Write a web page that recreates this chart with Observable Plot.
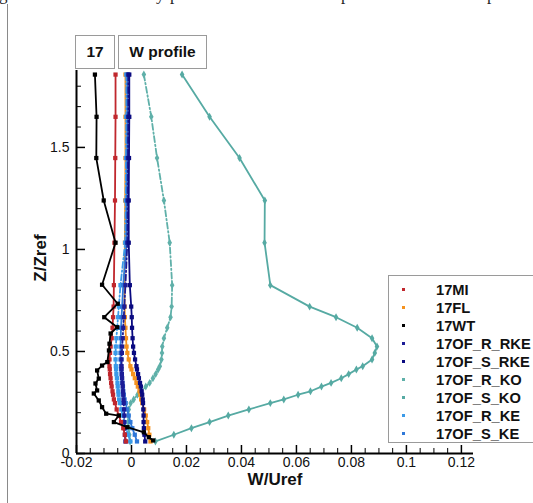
<!DOCTYPE html>
<html>
<head>
<meta charset="utf-8">
<script src="https://cdn.jsdelivr.net/npm/d3@7"></script>
<script src="https://cdn.jsdelivr.net/npm/@observablehq/plot@0.6"></script>
<style>
  html, body { margin: 0; padding: 0; background: #fff; }
  #wrap { position: relative; width: 533px; height: 503px; overflow: hidden; font-family: "Liberation Sans", Arial, sans-serif; }
  #wrap svg { position: absolute; left: 0; top: 0; }
  .tbox { position: absolute; top: 35px; height: 34px; border: 1px solid #9a9a9a; background: #fff; box-sizing: border-box;
          font-weight: bold; font-size: 15.5px; display: flex; align-items: center; justify-content: center; color: #111; }
  #legend { position: absolute; left: 388px; top: 275px; width: 170px; height: 168px; border: 1px solid #9a9a9a; background: #fff; box-sizing: border-box; }
  .lrow { position: absolute; left: 0; height: 18px; display: flex; align-items: center; font-weight: bold; font-size: 14.7px; color: #111; }
  .lmark { position: absolute; left: 13px; width: 3px; height: 3px; }
  .ltext { position: absolute; left: 47px; white-space: nowrap; }
  #pageline { position: absolute; left: 7px; top: 4px; width: 1px; height: 500px; background: #8a8a8a; }
  .frag { position: absolute; top: -15px; font-family: "Liberation Serif", serif; font-size: 17px; color: #222; }
</style>
</head>
<body>
<div id="wrap"></div>
<script>
// ---- data ----
const seriesNames = ["17MI","17FL","17WT","17OF_R_RKE","17OF_S_RKE","17OF_R_KO","17OF_S_KO","17OF_R_KE","17OF_S_KE"];
const seriesColors = ["#c0272d","#f5921e","#000000","#1c1c96","#0a0a80","#5fb0a9","#56aaa3","#3a9ae8","#2f78d8"];

// heights of the simulated / measured profile points (Z/Zref)
const zLevels = [1.857,1.65,1.448,1.24,1.033,0.825,0.72,0.668,0.616,0.565,0.524,0.493,0.461,0.428,0.412,0.389,0.369,0.346,0.328,0.305,0.288,0.265,0.247,0.216,0.186,0.154,0.124,0.092,0.059];

const w17MI = [-0.0058,-0.0058,-0.0059,-0.006,-0.0062,-0.0064,-0.0065,-0.0067,-0.0069,-0.0072,-0.0076,-0.0078,-0.008,-0.008,-0.0079,-0.0078,-0.0076,-0.0074,-0.0072,-0.0069,-0.0067,-0.0064,-0.006,-0.0054,-0.0046,-0.0038,-0.003,-0.0024,-0.002];
const w17FL = [-0.0022,-0.0022,-0.0022,-0.0023,-0.0024,-0.0026,-0.0025,-0.0024,-0.0022,-0.002,-0.0018,-0.0015,-0.001,-0.0004,0,0.0006,0.0012,0.0018,0.0023,0.0029,0.0032,0.0035,0.0039,0.0046,0.0052,0.0057,0.0061,0.0065,0.0069];
const w17OF_R_RKE = [-0.0012,-0.0012,-0.0013,-0.0014,-0.0015,-0.0022,-0.0026,-0.0028,-0.003,-0.0032,-0.0034,-0.0035,-0.0036,-0.0036,-0.0036,-0.0035,-0.0034,-0.0033,-0.0032,-0.0031,-0.003,-0.0029,-0.0028,-0.0027,-0.0026,-0.0026,-0.0025,-0.0024,-0.0022];
const w17OF_S_RKE = [-0.0008,-0.0008,-0.0009,-0.001,-0.001,-0.0006,-0.0001,0.0001,0.0002,0.0004,0.0006,0.0009,0.0013,0.0018,0.002,0.0024,0.0027,0.0031,0.0034,0.0037,0.0039,0.0041,0.0042,0.0043,0.0044,0.0044,0.0045,0.0047,0.005];
const w17OF_R_KO = [0.0045,0.0072,0.0093,0.0118,0.0139,0.0148,0.0146,0.0142,0.013,0.0118,0.0112,0.0111,0.0109,0.0103,0.0097,0.0088,0.0078,0.0066,0.0052,0.0035,0.0022,0.0008,-0.0003,-0.001,-0.0012,-0.0012,-0.001,-0.0008,-0.0005];
const w17OF_S_KO = [0.0184,0.0284,0.0393,0.0485,0.0484,0.0505,0.0648,0.0744,0.0821,0.0875,0.0893,0.0885,0.0875,0.0841,0.0818,0.079,0.0763,0.0726,0.0691,0.0651,0.0606,0.0554,0.0505,0.0427,0.0352,0.0284,0.0218,0.0154,0.0087];
const w17OF_R_KE = [-0.0019,-0.0019,-0.002,-0.0021,-0.0023,-0.004,-0.0046,-0.0049,-0.0052,-0.0055,-0.0057,-0.0058,-0.0058,-0.0057,-0.0056,-0.0055,-0.0053,-0.0051,-0.005,-0.0048,-0.0047,-0.0045,-0.0042,-0.0037,-0.0032,-0.0026,-0.002,-0.0012,-0.0004];
const w17OF_S_KE = [-0.0015,-0.0015,-0.0016,-0.0017,-0.0018,-0.003,-0.0034,-0.0036,-0.0038,-0.0039,-0.004,-0.004,-0.004,-0.0039,-0.0038,-0.0036,-0.0035,-0.0033,-0.0031,-0.003,-0.0028,-0.0025,-0.0021,-0.0016,-0.001,-0.0004,0.0003,0.0012,0.002];

// wind-tunnel measurement (own heights)
const zWT = [1.857,1.65,1.448,1.24,1.033,0.827,0.734,0.668,0.619,0.588,0.538,0.505,0.448,0.431,0.407,0.367,0.343,0.309,0.294,0.26,0.227,0.195,0.186,0.154,0.129,0.104,0.08,0.064];
const w17WT = [-0.0133,-0.0127,-0.0128,-0.0101,-0.0058,-0.0107,-0.005,-0.0099,-0.0052,-0.0076,-0.008,-0.0082,-0.0088,-0.0107,-0.0125,-0.0119,-0.0131,-0.0125,-0.0137,-0.0119,-0.0107,-0.0092,-0.0046,-0.0064,-0.0015,0.0045,0.0063,0.0079];

const xMajorTicks = [-0.02,0,0.02,0.04,0.06,0.08,0.1,0.12];
const yMajorTicks = [0,0.5,1,1.5];
const xTitle = "W/Uref";
const yTitle = "Z/Zref";
const titleLeft = "17";
const titleRight = "W profile";

// ---- build table ----
const valuesBySeries = {
  "17MI": w17MI, "17FL": w17FL, "17OF_R_RKE": w17OF_R_RKE, "17OF_S_RKE": w17OF_S_RKE,
  "17OF_R_KO": w17OF_R_KO, "17OF_S_KO": w17OF_S_KO, "17OF_R_KE": w17OF_R_KE, "17OF_S_KE": w17OF_S_KE
};
const rows = [];
for (const [name, vals] of Object.entries(valuesBySeries)) vals.forEach((w, i) => rows.push({series: name, w, z: zLevels[i]}));
w17WT.forEach((w, i) => rows.push({series: "17WT", w, z: zWT[i]}));

const colorOf = Object.fromEntries(seriesNames.map((n, i) => [n, seriesColors[i]]));
const drawOrder = ["17OF_S_KO","17OF_R_KO","17FL","17OF_R_KE","17OF_S_KE","17OF_R_RKE","17OF_S_RKE","17MI","17WT"];
const dashOf = n => n.includes("_R_") ? "6,2.5,1.5,2.5" : null;
const symbolOf = n => n.includes("KO") ? "diamond" : "square";

const xDom = [-0.02, 0.1244], yDom = [0, 1.877];
const pxX = 2750, pxY = 204; // px per data unit (for tick lengths)

const marks = [];
for (const n of drawOrder) {
  const d = rows.filter(r => r.series === n);
  marks.push(Plot.line(d, {x: "w", y: "z", stroke: colorOf[n], strokeWidth: 1.8, strokeDasharray: dashOf(n)}));
  marks.push(Plot.dot(d, {x: "w", y: "z", fill: colorOf[n], symbol: symbolOf(n), r: 2.4}));
}
// axis lines
marks.push(Plot.ruleY([0], {x1: xDom[0], x2: xDom[1], stroke: "#000", strokeWidth: 2}));
marks.push(Plot.ruleX([xDom[0]], {y1: yDom[0], y2: yDom[1], stroke: "#000", strokeWidth: 2}));
// inward ticks
const xMinor = d3.range(-0.02, 0.1241, 0.005).filter(v => !xMajorTicks.some(t => Math.abs(t - v) < 1e-9));
const yMinor = d3.range(0, 1.85, 0.1).filter(v => !yMajorTicks.some(t => Math.abs(t - v) < 1e-9));
marks.push(Plot.ruleX(xMajorTicks, {y1: 0, y2: 8 / pxY, stroke: "#000", strokeWidth: 1.5}));
marks.push(Plot.ruleX(xMinor, {y1: 0, y2: 5 / pxY, stroke: "#000", strokeWidth: 1}));
marks.push(Plot.ruleY(yMajorTicks, {x1: xDom[0], x2: xDom[0] + 9 / pxX, stroke: "#000", strokeWidth: 1.5}));
marks.push(Plot.ruleY(yMinor, {x1: xDom[0], x2: xDom[0] + 5 / pxX, stroke: "#000", strokeWidth: 1}));
const fmt = d => String(+d.toFixed(2));
marks.push(Plot.axisX(xMajorTicks, {tickSize: 0, tickPadding: 4, tickFormat: fmt, label: null, fill: "#111"}));
marks.push(Plot.axisY(yMajorTicks, {tickSize: 0, tickPadding: 7, tickFormat: fmt, label: null, fill: "#111"}));

const chart = Plot.plot({
  width: 533, height: 503,
  marginLeft: 76, marginRight: 60, marginTop: 70, marginBottom: 50,
  x: {domain: xDom},
  y: {domain: yDom},
  style: {fontFamily: "Liberation Sans, Arial, sans-serif", fontSize: "14px", background: "transparent", overflow: "visible"},
  marks
});

const wrap = document.getElementById("wrap");
wrap.appendChild(chart);

// axis titles (real text, SVG)
const ns = "http://www.w3.org/2000/svg";
function addText(txt, x, y, rot) {
  const t = document.createElementNS(ns, "text");
  t.textContent = txt;
  t.setAttribute("x", x); t.setAttribute("y", y);
  t.setAttribute("text-anchor", "middle");
  t.setAttribute("font-weight", "bold");
  t.setAttribute("font-size", "17");
  t.setAttribute("fill", "#111");
  t.setAttribute("dominant-baseline", "middle");
  if (rot) t.setAttribute("transform", `rotate(-90 ${x} ${y})`);
  chart.appendChild(t);
}
addText(xTitle, 275, 481, false);
addText(yTitle, 42, 258, true);

// page border line and top text fragments (cropped line of the source page)
const pl = document.createElement("div"); pl.id = "pageline"; wrap.appendChild(pl);
[["g", -1], ["y", 156], ["p", 170], ["p", 341], ["p", 487]].forEach(([c, x]) => {
  const s = document.createElement("span"); s.className = "frag"; s.textContent = c; s.style.left = x + "px"; wrap.appendChild(s);
});

// title boxes
function tbox(txt, left, w) {
  const b = document.createElement("div"); b.className = "tbox"; b.textContent = txt;
  b.style.left = left + "px"; b.style.width = w + "px"; wrap.appendChild(b);
}
tbox(titleLeft, 75, 40);
tbox(titleRight, 118, 89);

// legend
const lg = document.createElement("div"); lg.id = "legend";
seriesNames.forEach((n, i) => {
  const r = document.createElement("div"); r.className = "lrow"; r.style.top = (5 + i * 18) + "px";
  const m = document.createElement("div"); m.className = "lmark"; m.style.background = seriesColors[i]; m.style.top = "7px";
  const t = document.createElement("div"); t.className = "ltext"; t.textContent = n;
  r.appendChild(m); r.appendChild(t); lg.appendChild(r);
});
wrap.appendChild(lg);
</script>
</body>
</html>
